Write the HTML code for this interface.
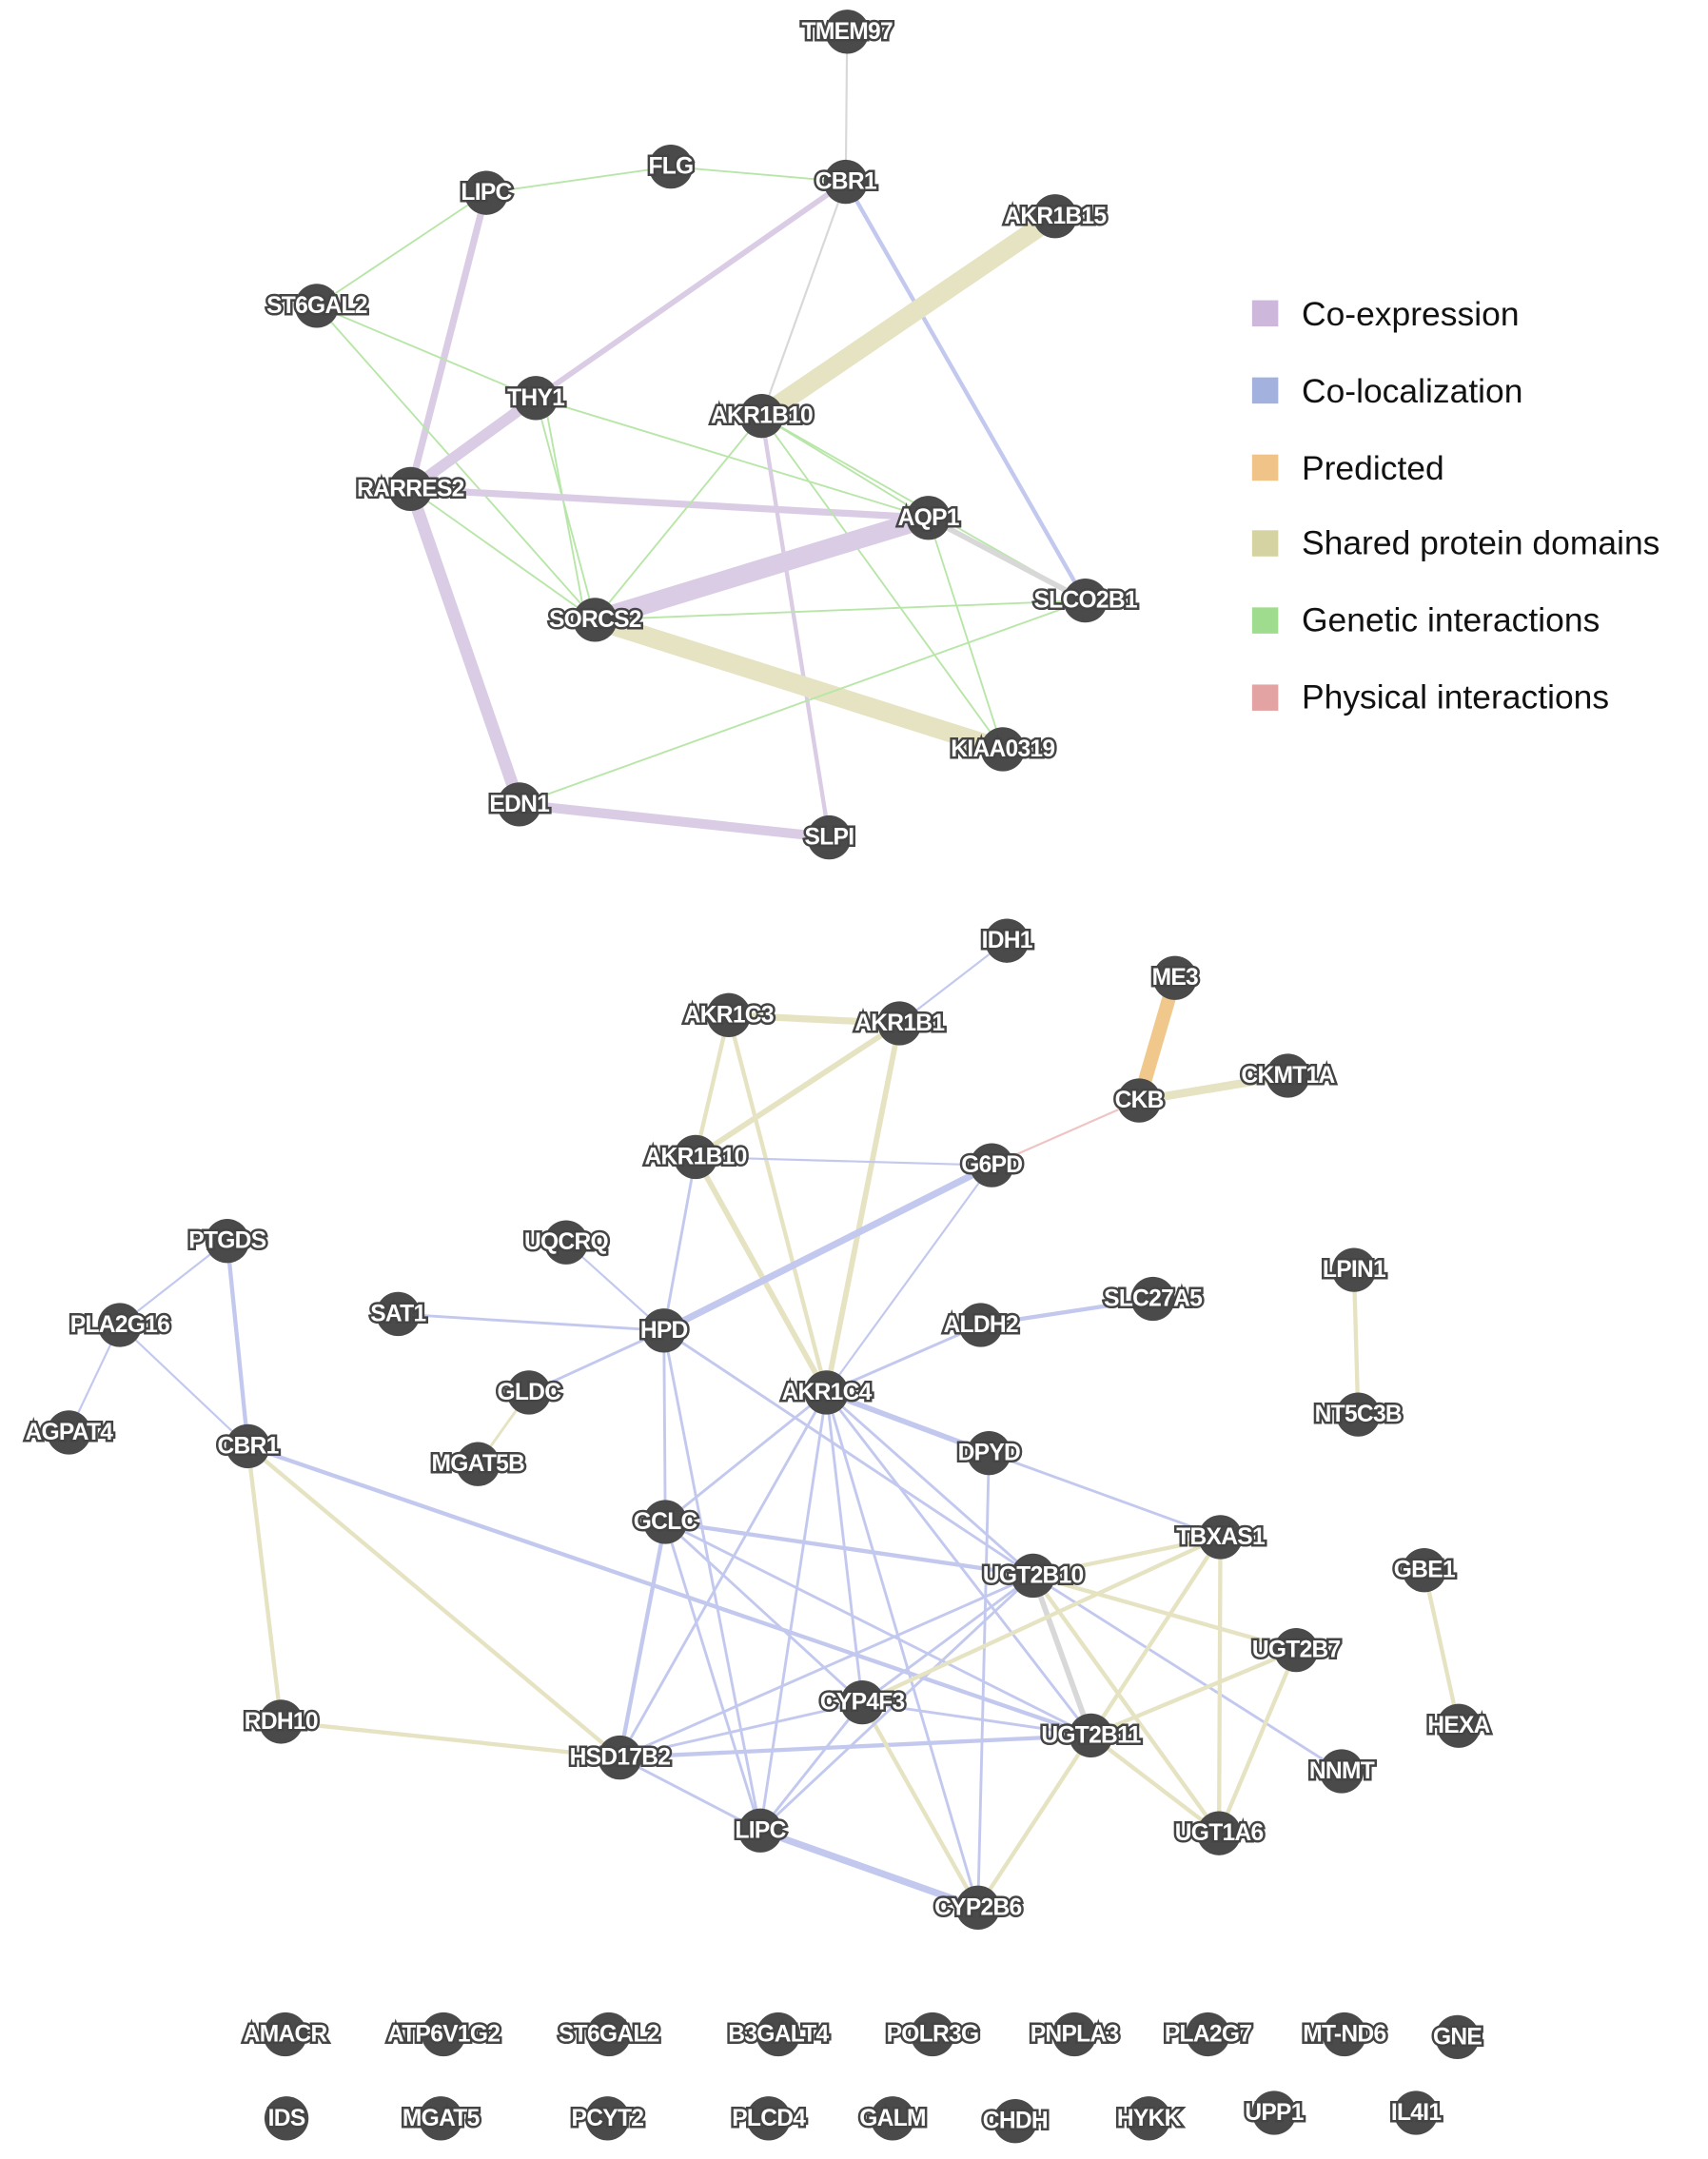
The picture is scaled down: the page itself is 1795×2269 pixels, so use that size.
<!DOCTYPE html>
<html><head><meta charset="utf-8"><style>
html,body{margin:0;padding:0;background:#fff;}
svg{display:block;}
.n circle{fill:#4a4a4a;}
.n text{font-family:"Liberation Sans",sans-serif;font-weight:bold;font-size:17px;fill:#fff;stroke:#444;stroke-width:3.5px;paint-order:stroke;text-anchor:middle;dominant-baseline:central;letter-spacing:-0.5px;}
.lg text{font-family:"Liberation Sans",sans-serif;font-size:24.5px;fill:#111;dominant-baseline:central;}
.g{stroke:#b8e6a8;stroke-width:1.3;}
.p{stroke:#d9cce4;}
.b{stroke:#c3c9ee;}
.s{stroke:#e6e3c2;}
.y{stroke:#d8d8d8;}
line{stroke-linecap:round;}
</style></head><body>
<svg width="1795" height="2269" viewBox="0 0 1240 1567.5" preserveAspectRatio="none">
<g fill="none">
<!-- top edges -->
<line class="y" x1="615" y1="23" x2="614" y2="132" stroke-width="1.5"/>
<line class="g" x1="487" y1="121" x2="614" y2="132"/>
<line class="g" x1="353" y1="140" x2="487" y2="121"/>
<line class="g" x1="353" y1="140" x2="230" y2="222"/>
<line class="p" x1="614" y1="132" x2="389" y2="289" stroke-width="4"/>
<line class="y" x1="614" y1="132" x2="553" y2="302" stroke-width="1.5"/>
<line class="b" x1="614" y1="132" x2="788" y2="436" stroke-width="3"/>
<line class="s" x1="766" y1="157" x2="553" y2="302" stroke-width="14"/>
<line class="p" x1="353" y1="140" x2="298" y2="355" stroke-width="5"/>
<line class="g" x1="230" y1="222" x2="389" y2="289"/>
<line class="g" x1="230" y1="222" x2="432" y2="450"/>
<line class="p" x1="389" y1="289" x2="298" y2="355" stroke-width="8"/>
<line class="g" x1="389" y1="289" x2="432" y2="450"/>
<line class="g" x1="395" y1="289" x2="425" y2="450"/>
<line class="g" x1="389" y1="289" x2="674" y2="376"/>
<line class="p" x1="298" y1="355" x2="674" y2="376" stroke-width="5"/>
<line class="p" x1="298" y1="355" x2="377" y2="584" stroke-width="9"/>
<line class="g" x1="298" y1="355" x2="432" y2="450"/>
<line class="g" x1="553" y1="302" x2="432" y2="450"/>
<line class="p" x1="553" y1="302" x2="602" y2="608" stroke-width="3"/>
<line class="g" x1="553" y1="302" x2="728" y2="544"/>
<line class="g" x1="553" y1="302" x2="788" y2="436"/>
<line class="g" x1="553" y1="302" x2="674" y2="376"/>
<line class="p" x1="432" y1="450" x2="674" y2="376" stroke-width="14"/>
<line class="s" x1="432" y1="450" x2="728" y2="544" stroke-width="14"/>
<line class="g" x1="432" y1="450" x2="788" y2="436"/>
<line class="y" x1="674" y1="376" x2="788" y2="436" stroke-width="4"/>
<line class="g" x1="674" y1="376" x2="728" y2="544"/>
<line class="p" x1="377" y1="584" x2="602" y2="608" stroke-width="7"/>
<line class="g" x1="377" y1="584" x2="788" y2="436"/>
<!-- bottom edges -->
<line stroke="#f0c88c" x1="853" y1="710" x2="827" y2="799" stroke-width="10"/>
<line class="s" x1="827" y1="799" x2="935" y2="781" stroke-width="6"/>
<line stroke="#efc4c4" x1="827" y1="799" x2="720" y2="846" stroke-width="1.5"/>
<line class="b" x1="731" y1="683" x2="653" y2="743" stroke-width="1.5"/>
<line class="s" x1="529" y1="737" x2="653" y2="743" stroke-width="5"/>
<line class="s" x1="529" y1="737" x2="505" y2="840" stroke-width="3"/>
<line class="s" x1="529" y1="737" x2="600" y2="1011" stroke-width="3"/>
<line class="s" x1="653" y1="743" x2="505" y2="840" stroke-width="4"/>
<line class="s" x1="653" y1="743" x2="600" y2="1011" stroke-width="4"/>
<line class="b" x1="505" y1="840" x2="720" y2="846" stroke-width="1.5"/>
<line class="s" x1="505" y1="840" x2="600" y2="1011" stroke-width="4"/>
<line class="b" x1="505" y1="840" x2="482" y2="966" stroke-width="2"/>
<line class="b" x1="720" y1="846" x2="482" y2="966" stroke-width="5"/>
<line class="b" x1="720" y1="846" x2="600" y2="1011" stroke-width="1.5"/>
<line class="b" x1="165" y1="901" x2="87" y2="962" stroke-width="1.5"/>
<line class="b" x1="165" y1="901" x2="180" y2="1050" stroke-width="3"/>
<line class="b" x1="87" y1="962" x2="50" y2="1040" stroke-width="1.5"/>
<line class="b" x1="87" y1="962" x2="180" y2="1050" stroke-width="1.5"/>
<line class="b" x1="411" y1="902" x2="482" y2="966" stroke-width="1.5"/>
<line class="b" x1="289" y1="954" x2="482" y2="966" stroke-width="2"/>
<line class="b" x1="384" y1="1011" x2="482" y2="966" stroke-width="2"/>
<line class="s" x1="384" y1="1011" x2="347" y2="1063" stroke-width="2"/>
<line class="b" x1="837" y1="943" x2="712" y2="962" stroke-width="3"/>
<line class="b" x1="712" y1="962" x2="600" y2="1011" stroke-width="2"/>
<line class="s" x1="983" y1="922" x2="986" y2="1027" stroke-width="3"/>
<line class="s" x1="1034" y1="1140" x2="1059" y2="1253" stroke-width="3"/>
<line class="b" x1="482" y1="966" x2="483" y2="1105" stroke-width="2"/>
<line class="b" x1="482" y1="966" x2="750" y2="1144" stroke-width="2"/>
<line class="b" x1="482" y1="966" x2="552" y2="1329" stroke-width="2"/>
<line class="b" x1="600" y1="1011" x2="718" y2="1055" stroke-width="4"/>
<line class="b" x1="600" y1="1011" x2="483" y2="1105" stroke-width="2"/>
<line class="b" x1="600" y1="1011" x2="450" y2="1276" stroke-width="2"/>
<line class="b" x1="600" y1="1011" x2="552" y2="1329" stroke-width="2"/>
<line class="b" x1="600" y1="1011" x2="626" y2="1236" stroke-width="2"/>
<line class="b" x1="600" y1="1011" x2="750" y2="1144" stroke-width="2"/>
<line class="b" x1="600" y1="1011" x2="792" y2="1260" stroke-width="2"/>
<line class="b" x1="600" y1="1011" x2="710" y2="1385" stroke-width="2"/>
<line class="b" x1="718" y1="1055" x2="886" y2="1116" stroke-width="2"/>
<line class="b" x1="718" y1="1055" x2="710" y2="1385" stroke-width="2"/>
<line class="s" x1="180" y1="1050" x2="450" y2="1276" stroke-width="3"/>
<line class="s" x1="180" y1="1050" x2="204" y2="1250" stroke-width="3"/>
<line class="b" x1="180" y1="1050" x2="792" y2="1260" stroke-width="3"/>
<line class="s" x1="204" y1="1250" x2="450" y2="1276" stroke-width="3"/>
<line class="b" x1="483" y1="1105" x2="750" y2="1144" stroke-width="3"/>
<line class="b" x1="483" y1="1105" x2="792" y2="1260" stroke-width="2"/>
<line class="b" x1="483" y1="1105" x2="450" y2="1276" stroke-width="3"/>
<line class="b" x1="483" y1="1105" x2="552" y2="1329" stroke-width="2"/>
<line class="b" x1="483" y1="1105" x2="626" y2="1236" stroke-width="2"/>
<line class="b" x1="450" y1="1276" x2="792" y2="1260" stroke-width="3"/>
<line class="b" x1="450" y1="1276" x2="552" y2="1329" stroke-width="2"/>
<line class="b" x1="450" y1="1276" x2="626" y2="1236" stroke-width="2"/>
<line class="b" x1="450" y1="1276" x2="750" y2="1144" stroke-width="2"/>
<line class="b" x1="626" y1="1236" x2="750" y2="1144" stroke-width="2"/>
<line class="b" x1="626" y1="1236" x2="792" y2="1260" stroke-width="2"/>
<line class="s" x1="626" y1="1236" x2="710" y2="1385" stroke-width="3"/>
<line class="b" x1="626" y1="1236" x2="552" y2="1329" stroke-width="2"/>
<line class="b" x1="552" y1="1329" x2="750" y2="1144" stroke-width="2"/>
<line class="b" x1="552" y1="1329" x2="710" y2="1385" stroke-width="5"/>
<line class="s" x1="750" y1="1144" x2="886" y2="1116" stroke-width="3"/>
<line class="s" x1="750" y1="1144" x2="941" y2="1198" stroke-width="3"/>
<line class="y" x1="750" y1="1144" x2="792" y2="1260" stroke-width="4"/>
<line class="s" x1="750" y1="1144" x2="885" y2="1331" stroke-width="3"/>
<line class="b" x1="750" y1="1144" x2="974" y2="1286" stroke-width="2"/>
<line class="s" x1="792" y1="1260" x2="886" y2="1116" stroke-width="3"/>
<line class="s" x1="792" y1="1260" x2="941" y2="1198" stroke-width="3"/>
<line class="s" x1="792" y1="1260" x2="885" y2="1331" stroke-width="3"/>
<line class="s" x1="792" y1="1260" x2="710" y2="1385" stroke-width="3"/>
<line class="s" x1="886" y1="1116" x2="885" y2="1331" stroke-width="3"/>
<line class="s" x1="941" y1="1198" x2="885" y2="1331" stroke-width="3"/>
<line class="s" x1="886" y1="1116" x2="626" y2="1236" stroke-width="3"/>
</g>
<g class="lg">
<rect x="909" y="218" width="19" height="19" fill="#cdb8dc"/><text x="945" y="228">Co-expression</text>
<rect x="909" y="274" width="19" height="19" fill="#a3b1df"/><text x="945" y="284">Co-localization</text>
<rect x="909" y="330" width="19" height="19" fill="#f0c488"/><text x="945" y="340">Predicted</text>
<rect x="909" y="385" width="19" height="19" fill="#d6d3a2"/><text x="945" y="394">Shared protein domains</text>
<rect x="909" y="441" width="19" height="19" fill="#a0dc8e"/><text x="945" y="450">Genetic interactions</text>
<rect x="909" y="497" width="19" height="19" fill="#e4a3a3"/><text x="945" y="506">Physical interactions</text>
</g>
<g class="n">
<circle cx="615" cy="23" r="16"/><text x="615" y="23">TMEM97</text>
<circle cx="614" cy="132" r="16"/><text x="614" y="132">CBR1</text>
<circle cx="487" cy="121" r="16"/><text x="487" y="121">FLG</text>
<circle cx="353" cy="140" r="16"/><text x="353" y="140">LIPC</text>
<circle cx="766" cy="157" r="16"/><text x="766" y="157">AKR1B15</text>
<circle cx="230" cy="222" r="16"/><text x="230" y="222">ST6GAL2</text>
<circle cx="389" cy="289" r="16"/><text x="389" y="289">THY1</text>
<circle cx="553" cy="302" r="16"/><text x="553" y="302">AKR1B10</text>
<circle cx="298" cy="355" r="16"/><text x="298" y="355">RARRES2</text>
<circle cx="674" cy="376" r="16"/><text x="674" y="376">AQP1</text>
<circle cx="788" cy="436" r="16"/><text x="788" y="436">SLCO2B1</text>
<circle cx="432" cy="450" r="16"/><text x="432" y="450">SORCS2</text>
<circle cx="728" cy="544" r="16"/><text x="728" y="544">KIAA0319</text>
<circle cx="377" cy="584" r="16"/><text x="377" y="584">EDN1</text>
<circle cx="602" cy="608" r="16"/><text x="602" y="608">SLPI</text>

<circle cx="731" cy="683" r="16"/><text x="731" y="683">IDH1</text>
<circle cx="853" cy="710" r="16"/><text x="853" y="710">ME3</text>
<circle cx="529" cy="737" r="16"/><text x="529" y="737">AKR1C3</text>
<circle cx="653" cy="743" r="16"/><text x="653" y="743">AKR1B1</text>
<circle cx="827" cy="799" r="16"/><text x="827" y="799">CKB</text>
<circle cx="935" cy="781" r="16"/><text x="935" y="781">CKMT1A</text>
<circle cx="505" cy="840" r="16"/><text x="505" y="840">AKR1B10</text>
<circle cx="720" cy="846" r="16"/><text x="720" y="846">G6PD</text>
<circle cx="165" cy="901" r="16"/><text x="165" y="901">PTGDS</text>
<circle cx="411" cy="902" r="16"/><text x="411" y="902">UQCRQ</text>
<circle cx="983" cy="922" r="16"/><text x="983" y="922">LPIN1</text>
<circle cx="837" cy="943" r="16"/><text x="837" y="943">SLC27A5</text>
<circle cx="87" cy="962" r="16"/><text x="87" y="962">PLA2G16</text>
<circle cx="289" cy="954" r="16"/><text x="289" y="954">SAT1</text>
<circle cx="482" cy="966" r="16"/><text x="482" y="966">HPD</text>
<circle cx="712" cy="962" r="16"/><text x="712" y="962">ALDH2</text>
<circle cx="384" cy="1011" r="16"/><text x="384" y="1011">GLDC</text>
<circle cx="600" cy="1011" r="16"/><text x="600" y="1011">AKR1C4</text>
<circle cx="986" cy="1027" r="16"/><text x="986" y="1027">NT5C3B</text>
<circle cx="50" cy="1040" r="16"/><text x="50" y="1040">AGPAT4</text>
<circle cx="180" cy="1050" r="16"/><text x="180" y="1050">CBR1</text>
<circle cx="347" cy="1063" r="16"/><text x="347" y="1063">MGAT5B</text>
<circle cx="718" cy="1055" r="16"/><text x="718" y="1055">DPYD</text>
<circle cx="483" cy="1105" r="16"/><text x="483" y="1105">GCLC</text>
<circle cx="886" cy="1116" r="16"/><text x="886" y="1116">TBXAS1</text>
<circle cx="1034" cy="1140" r="16"/><text x="1034" y="1140">GBE1</text>
<circle cx="750" cy="1144" r="16"/><text x="750" y="1144">UGT2B10</text>
<circle cx="941" cy="1198" r="16"/><text x="941" y="1198">UGT2B7</text>
<circle cx="626" cy="1236" r="16"/><text x="626" y="1236">CYP4F3</text>
<circle cx="204" cy="1250" r="16"/><text x="204" y="1250">RDH10</text>
<circle cx="1059" cy="1253" r="16"/><text x="1059" y="1253">HEXA</text>
<circle cx="792" cy="1260" r="16"/><text x="792" y="1260">UGT2B11</text>
<circle cx="450" cy="1276" r="16"/><text x="450" y="1276">HSD17B2</text>
<circle cx="974" cy="1286" r="16"/><text x="974" y="1286">NNMT</text>
<circle cx="552" cy="1329" r="16"/><text x="552" y="1329">LIPC</text>
<circle cx="885" cy="1331" r="16"/><text x="885" y="1331">UGT1A6</text>
<circle cx="710" cy="1385" r="16"/><text x="710" y="1385">CYP2B6</text>

<circle cx="207" cy="1477" r="16"/><text x="207" y="1477">AMACR</text>
<circle cx="322" cy="1477" r="16"/><text x="322" y="1477">ATP6V1G2</text>
<circle cx="442" cy="1477" r="16"/><text x="442" y="1477">ST6GAL2</text>
<circle cx="565" cy="1477" r="16"/><text x="565" y="1477">B3GALT4</text>
<circle cx="677" cy="1477" r="16"/><text x="677" y="1477">POLR3G</text>
<circle cx="780" cy="1477" r="16"/><text x="780" y="1477">PNPLA3</text>
<circle cx="877" cy="1477" r="16"/><text x="877" y="1477">PLA2G7</text>
<circle cx="976" cy="1477" r="16"/><text x="976" y="1477">MT-ND6</text>
<circle cx="1058" cy="1479" r="16"/><text x="1058" y="1479">GNE</text>
<circle cx="208" cy="1538" r="16"/><text x="208" y="1538">IDS</text>
<circle cx="320" cy="1538" r="16"/><text x="320" y="1538">MGAT5</text>
<circle cx="441" cy="1538" r="16"/><text x="441" y="1538">PCYT2</text>
<circle cx="558" cy="1538" r="16"/><text x="558" y="1538">PLCD4</text>
<circle cx="648" cy="1538" r="16"/><text x="648" y="1538">GALM</text>
<circle cx="737" cy="1540" r="16"/><text x="737" y="1540">CHDH</text>
<circle cx="834" cy="1538" r="16"/><text x="834" y="1538">HYKK</text>
<circle cx="925" cy="1534" r="16"/><text x="925" y="1534">UPP1</text>
<circle cx="1028" cy="1534" r="16"/><text x="1028" y="1534">IL4I1</text>
</g>
</svg>
</body></html>
